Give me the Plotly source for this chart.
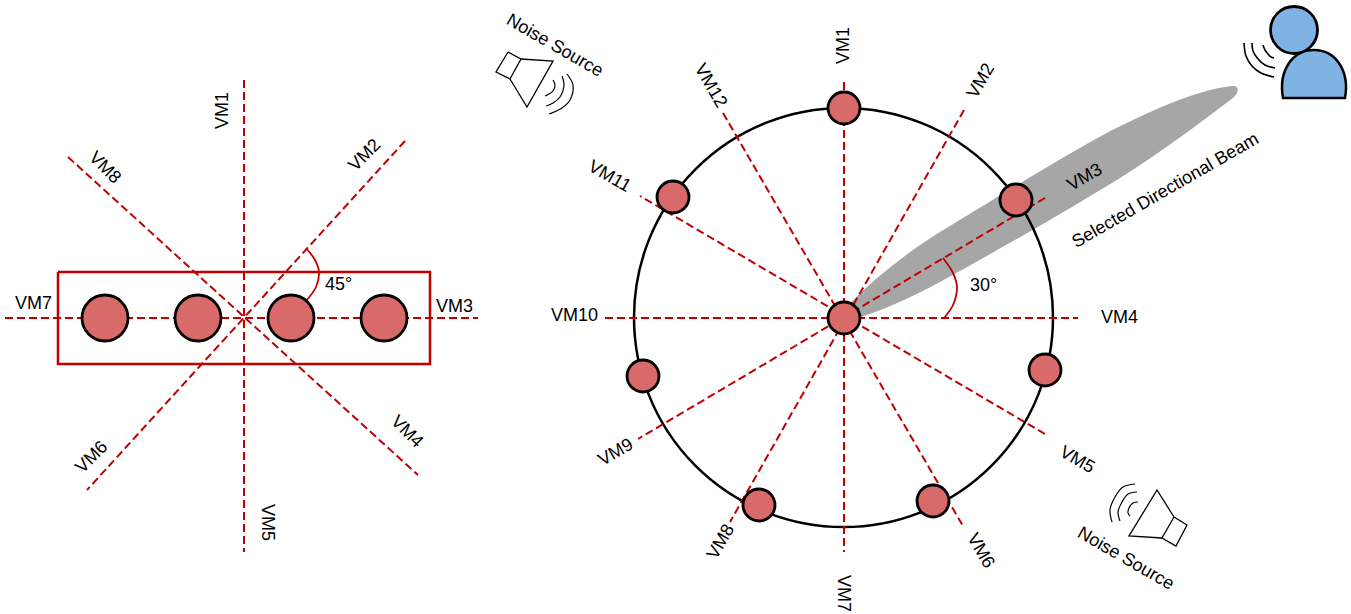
import plotly.graph_objects as go

W, H = 1351, 614
RED = "#C00000"
BLACK = "#000000"
PINK = "#D96A6A"
BLUE = "#7FB3E3"
GRAY = "#A6A6A6"
FONT = "Liberation Sans"

# Left array: dashed axes as (x0, y0, x1, y1)
left_axes = [(244, 80, 244, 552), (405, 141, 87, 490), (5, 318, 478, 318), (68, 157, 418, 475)]
left_box_x = [58, 430, 430, 58, 58]
left_box_y = [272, 272, 364, 364, 272]
left_mic_x = [105, 198, 291, 384]
left_mic_y = [318, 318, 318, 318]
left_arc_x = [306, 315, 319, 316, 306]
left_arc_y = [248, 260, 272, 287, 301]

# Right array
right_axes = [(844, 82, 844, 552), (605, 318, 1078, 318), (964, 110, 730, 522), (1045, 198, 638, 439),
              (1045, 434, 640, 196), (723, 113, 963, 526)]
ring_x = [843.5]
ring_y = [317.5]
right_mic_x = [844, 673, 1016, 643, 1045, 759, 933, 844]
right_mic_y = [108, 197, 200, 376, 370, 505, 501, 318]
right_arc_x = [943, 953, 957, 953, 944]
right_arc_y = [258, 273, 287, 305, 318]

# Beam outline
beam_path = ("M850,303 C875,278 905,254 940,232 C985,205 1060,158 1103,135 C1145,113 1195,90 1232,86 "
             "C1240,85 1239,93 1233,98 C1200,123 1160,153 1120,178 C1065,212 1000,249 940,282 "
             "C910,298 880,312 850,320 Z")

# Person
head_x = [1294]
head_y = [30]
body_path = "M1283,98 C1278,70 1293,50 1314,50 C1335,50 1350,70 1345,98 Z"
voice_waves = [
    ([1244, 1246, 1252, 1261, 1274], [43, 56, 66, 73, 77]),
    ([1252, 1253, 1258, 1265, 1275], [43, 51, 59, 65, 68]),
    ([1263, 1265, 1268, 1271, 1274], [45, 50, 54, 57, 58]),
]

# Speakers
sp1_box = ([508, 521, 510, 496, 508], [52, 59, 79, 72, 52])
sp1_cone = ([521, 553, 527, 510], [59, 61, 107, 79])
sp1_waves = [
    ([567, 573, 570, 562, 549], [74, 85, 100, 108, 114]),
    ([562, 564, 560, 553, 546], [76, 85, 97, 103, 106]),
    ([553, 555, 553, 549, 545], [80, 85, 91, 94, 96]),
]
sp2_box = ([1174, 1187, 1176, 1162, 1174], [517, 525, 546, 538, 517])
sp2_cone = ([1174, 1157, 1129, 1162], [517, 490, 536, 538])
sp2_waves = [
    ([1135, 1123, 1115, 1110, 1112], [484, 487, 497, 510, 522]),
    ([1137, 1128, 1122, 1118, 1120], [492, 494, 502, 512, 521]),
    ([1138, 1133, 1129, 1128, 1130], [502, 503, 508, 513, 516]),
]

# Labels: text, x, y, angle
labels = [
    ("VM1", 222, 111, -90), ("VM2", 364, 155, -45), ("VM3", 454, 306, 0), ("VM4", 407, 431, 45),
    ("VM5", 268, 522, 90), ("VM6", 91, 457, -45), ("VM7", 33, 303, 0), ("VM8", 105, 167, 45),
    ("45°", 338, 284, 0),
    ("VM1", 843, 46, -90), ("VM2", 980, 81, -60), ("VM3", 1084, 177, -30), ("VM4", 1119, 317, 0),
    ("VM5", 1077, 459, 30), ("VM6", 981, 550, 60), ("VM7", 844, 593, 90), ("VM8", 720, 542, -60),
    ("VM9", 615, 452, -30), ("VM10", 574, 315, 0), ("VM11", 610, 176, 30), ("VM12", 711, 85, 60),
    ("30°", 983, 285, 0),
    ("Selected Directional Beam", 1165, 190, -30),
    ("Noise Source", 555, 45, 30),
    ("Noise Source", 1126, 558, 30),
]

fig = go.Figure()


def line(x, y, color=BLACK, width=1.3, dash=None, spline=False):
    fig.add_trace(go.Scatter(
        x=list(x), y=list(y), mode="lines",
        line=dict(color=color, width=width, dash=dash, shape="spline" if spline else "linear", smoothing=1.0),
        hoverinfo="skip", showlegend=False,
    ))


def circles(x, y, size, fill=PINK, width=2.8):
    fig.add_trace(go.Scatter(
        x=x, y=y, mode="markers",
        marker=dict(size=size, color=fill, line=dict(color=BLACK, width=width)),
        hoverinfo="skip", showlegend=False,
    ))


# Ring
fig.add_trace(go.Scatter(
    x=ring_x, y=ring_y, mode="markers",
    marker=dict(size=419, symbol="circle-open", color=BLACK, line=dict(color=BLACK, width=2.5)),
    hoverinfo="skip", showlegend=False,
))

# Dashed axes
for x0, y0, x1, y1 in left_axes + right_axes:
    line([x0, x1], [y0, y1], color=RED, width=2, dash="8px,4px")

# Box and angle arcs
line(left_box_x, left_box_y, color=RED, width=2.5)
line(left_arc_x, left_arc_y, color=RED, width=1.8, spline=True)
line(right_arc_x, right_arc_y, color=RED, width=1.8, spline=True)

# Microphones
circles(left_mic_x, left_mic_y, 46)
circles(right_mic_x, right_mic_y, 32)

# Person
circles(head_x, head_y, 47, fill=BLUE)
for wx, wy in voice_waves:
    line(wx, wy, color=BLACK, width=1.6, spline=True)

# Speakers
for box, cone, waves in [(sp1_box, sp1_cone, sp1_waves), (sp2_box, sp2_cone, sp2_waves)]:
    line(*box, color=BLACK, width=1.3)
    line(*cone, color=BLACK, width=1.3)
    for wx, wy in waves:
        line(wx, wy, color=BLACK, width=1.2, spline=True)

for text, x, y, angle in labels:
    fig.add_annotation(x=x, y=y, text=text, textangle=angle, showarrow=False,
                       font=dict(family=FONT, size=18, color=BLACK))

fig.update_layout(
    width=W, height=H, margin=dict(l=0, r=0, t=0, b=0),
    paper_bgcolor="white", plot_bgcolor="white", showlegend=False,
    xaxis=dict(range=[0, W], visible=False, fixedrange=True),
    yaxis=dict(range=[H, 0], visible=False, fixedrange=True),
    shapes=[
        dict(type="path", path=beam_path, xref="x", yref="y", fillcolor=GRAY,
             line=dict(width=0), layer="below"),
        dict(type="path", path=body_path, xref="x", yref="y", fillcolor=BLUE,
             line=dict(color=BLACK, width=2.5), layer="above"),
    ],
)

fig.write_html("out.html", config={"displayModeBar": False},
               post_script="document.body.style.margin='0';document.body.style.overflow='hidden';")
